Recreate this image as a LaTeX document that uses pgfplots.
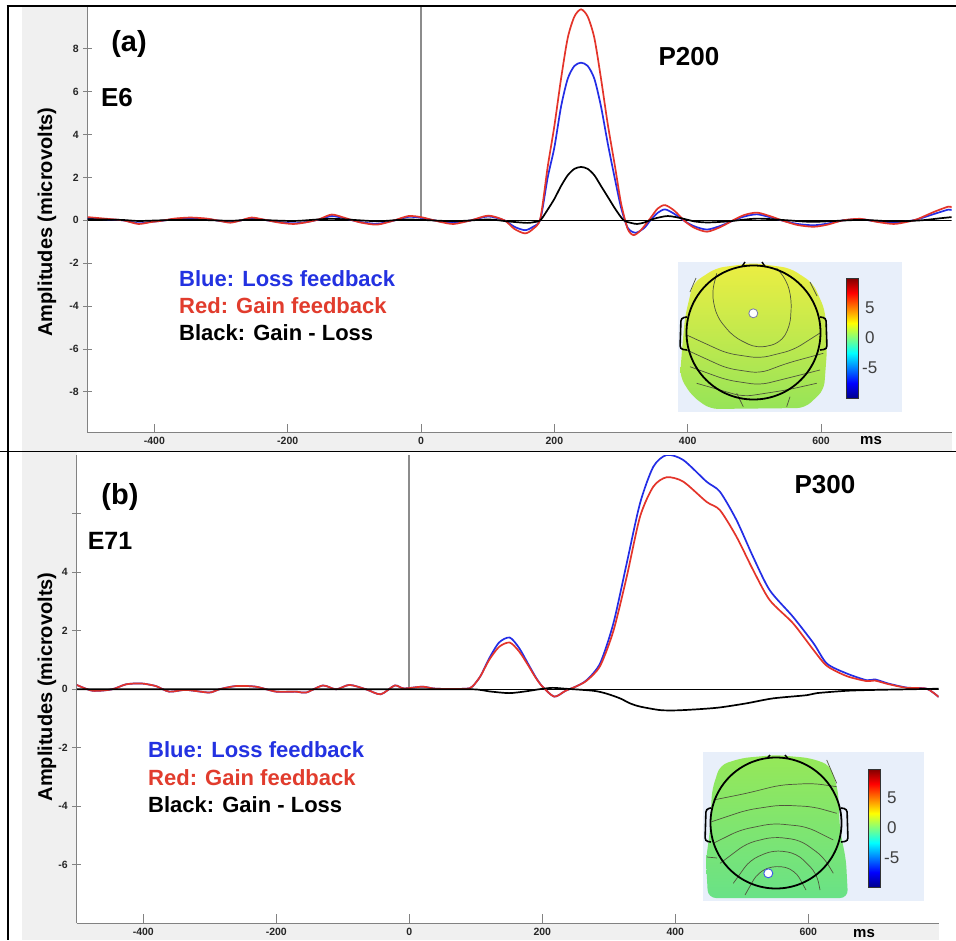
\documentclass[border=0pt]{standalone}
\usepackage{fontspec}
\setmainfont{Liberation Sans}
\usepackage{pgfplots}
\usepackage{pgfplotstable}
\pgfplotsset{compat=1.18}

\definecolor{lossblue}{RGB}{35,45,230}
\definecolor{gainred}{RGB}{228,52,42}
\definecolor{txtblue}{RGB}{35,50,225}
\definecolor{txtred}{RGB}{225,60,45}
\definecolor{bggray}{RGB}{240,240,240}
\definecolor{axgray}{RGB}{130,130,130}
\definecolor{stimgray}{RGB}{140,140,140}
\definecolor{topobg}{RGB}{232,239,250}
\definecolor{contour}{RGB}{80,85,60}
\definecolor{jet0}{RGB}{0,0,140}
\definecolor{jet1}{RGB}{0,0,255}
\definecolor{jet2}{RGB}{0,255,255}
\definecolor{jet3}{RGB}{255,255,0}
\definecolor{jet4}{RGB}{255,0,0}
\definecolor{jet5}{RGB}{128,0,0}
% tikz fits the middle 50bp of a shading to the path
\pgfdeclareverticalshading{jet}{100bp}{color(0bp)=(jet0); color(25bp)=(jet0); color(31.25bp)=(jet1); color(43.75bp)=(jet2); color(56.25bp)=(jet3); color(68.75bp)=(jet4); color(75bp)=(jet5); color(100bp)=(jet5)}

% ---- panel (a), electrode E6 ----
\pgfplotstableread{
t v
-500 0.15
-475 0.08
-447 0.0
-424 -0.17
-405 -0.08
-391 -0.03
-370 0.08
-346 0.13
-321 0.08
-303 -0.02
-286 -0.11
-270 0.0
-254 0.13
-235 0.03
-214 -0.1
-191 -0.17
-170 -0.08
-153 0.05
-134 0.27
-115 0.12
-91 -0.1
-66 -0.2
-42 -0.02
-19 0.2
0 0.15
13 0.05
30 -0.08
49 -0.17
75 0.0
101 0.22
125 0.0
140 -0.4
156 -0.61
168 -0.4
179 0.1
190 2.5
200 4.4
210 6.6
220 8.5
230 9.5
240 9.84
250 9.5
260 8.5
270 6.6
280 4.5
291 2.5
300 0.8
310 -0.4
319 -0.69
330 -0.45
344 0.1
355 0.55
366 0.71
380 0.45
396 -0.05
410 -0.35
429 -0.53
450 -0.3
469 0.02
485 0.25
504 0.36
525 0.18
543 -0.02
565 -0.22
589 -0.3
610 -0.2
633 0.0
659 0.07
685 -0.08
709 -0.17
728 -0.08
744 0.05
770 0.4
791 0.64
796 0.6
}\redA

\pgfplotstableread{
t v
-500 0.1
-475 0.05
-447 0.0
-424 -0.14
-405 -0.07
-391 -0.03
-370 0.06
-346 0.1
-321 0.06
-303 -0.02
-286 -0.09
-270 0.0
-254 0.1
-235 0.02
-214 -0.08
-191 -0.14
-170 -0.07
-153 0.04
-134 0.2
-115 0.09
-91 -0.08
-66 -0.16
-42 -0.02
-19 0.16
0 0.12
13 0.04
30 -0.06
49 -0.13
75 0.0
101 0.18
125 0.0
140 -0.3
156 -0.46
168 -0.3
179 0.05
190 2.0
200 3.4
210 5.3
220 6.6
230 7.2
240 7.35
250 7.2
260 6.6
270 5.3
280 3.6
291 1.9
300 0.6
310 -0.35
322 -0.58
335 -0.35
344 0.0
355 0.35
366 0.51
380 0.3
396 -0.05
410 -0.28
429 -0.43
450 -0.25
469 0.0
485 0.18
504 0.28
525 0.13
543 -0.02
565 -0.17
589 -0.23
610 -0.15
633 0.0
659 0.05
685 -0.06
709 -0.12
728 -0.05
744 0.04
770 0.3
791 0.5
796 0.47
}\blueA

\pgfplotstableread{
t v
-500 0.05
-450 0.02
-424 -0.03
-391 0.0
-346 0.03
-286 -0.02
-254 0.03
-191 -0.03
-134 0.07
-66 -0.04
-19 0.04
49 -0.04
101 0.04
130 -0.05
159 -0.12
170 -0.08
179 0.0
190 0.5
200 1.0
210 1.6
220 2.1
230 2.4
240 2.49
250 2.4
260 2.1
270 1.6
281 1.05
292 0.5
304 0.0
315 -0.12
324 -0.17
335 -0.1
350 0.08
370 0.2
390 0.1
410 -0.05
430 -0.1
460 -0.05
504 0.08
550 0.0
589 -0.07
659 0.02
709 -0.05
750 0.0
780 0.1
796 0.15
}\blackA

% ---- panel (b), electrode E71 ----
\pgfplotstableread{
t v
-500 0.15
-476 -0.05
-447 0.0
-426 0.17
-403 0.2
-381 0.11
-361 -0.08
-336 -0.02
-301 -0.11
-286 0.0
-261 0.11
-231 0.09
-200 -0.08
-170 -0.08
-155 -0.11
-130 0.13
-110 0.0
-90 0.15
-65 0.0
-43 -0.17
-22 0.13
-8 0.03
20 0.09
40 0.02
85 0.02
95 0.1
107 0.45
120 1.0
135 1.45
151 1.6
165 1.3
178 0.85
190 0.4
200 0.1
218 -0.25
235 -0.05
251 0.1
267 0.3
287 0.8
307 2.0
327 3.85
347 5.9
367 6.93
387 7.25
412 7.1
447 6.41
467 6.13
492 5.22
517 4.08
542 3.05
577 2.26
608 1.34
628 0.8
658 0.45
688 0.28
700 0.3
720 0.18
748 0.05
778 0.02
796 -0.26
}\redB

\pgfplotstableread{
t v
-500 0.15
-476 -0.05
-447 0.0
-426 0.17
-403 0.2
-381 0.11
-361 -0.08
-336 -0.02
-301 -0.11
-286 0.0
-261 0.11
-231 0.09
-200 -0.08
-170 -0.08
-155 -0.11
-130 0.13
-110 0.0
-90 0.15
-65 0.0
-43 -0.17
-22 0.13
-8 0.03
20 0.09
40 0.02
85 0.02
95 0.1
107 0.45
120 1.05
135 1.6
151 1.77
165 1.42
178 0.9
190 0.42
200 0.1
218 -0.25
235 -0.05
251 0.1
267 0.32
287 0.89
307 2.26
327 4.31
347 6.36
367 7.61
387 8.01
412 7.84
447 7.1
467 6.76
492 5.79
517 4.53
542 3.39
577 2.48
608 1.57
628 0.88
658 0.54
688 0.31
700 0.34
720 0.2
748 0.06
778 0.02
796 -0.26
}\blueB

\pgfplotstableread{
t v
-500 0.0
-300 0.0
0 0.0
95 0.0
120 -0.07
150 -0.13
175 -0.07
195 0.0
215 0.05
235 0.02
277 -0.05
297 -0.15
317 -0.31
332 -0.48
347 -0.59
377 -0.71
402 -0.72
435 -0.68
467 -0.62
507 -0.48
547 -0.31
598 -0.2
613 -0.13
658 -0.05
700 -0.02
750 0.0
796 0.02
}\blackB

\pgfplotsset{
  erp/.style={
    scale only axis,
    axis lines=left,
    axis line style={axgray, line width=0.8pt, -},
    xmin=-500, xmax=796,
    xtick={-400,-200,0,200,400,600},
    xticklabels={-400,-200,0,200,400,600},
    tick style={axgray, line width=0.8pt},
    xtick align=inside,
    ytick align=center,
    major tick length=9pt,
    ticklabel style={font=\fontsize{10.5}{12}\selectfont\bfseries, text=black!85},
    yticklabel style={xshift=-1pt},
    xticklabel style={yshift=-1pt},
    ylabel={Amplitudes (microvolts)},
    ylabel style={font=\fontsize{20}{22}\selectfont\bfseries, anchor=center},
  },
  curve/.style={line width=1.7pt, smooth, tension=0.45},
}

\newcommand{\bigb}[1]{\fontsize{#1}{#1}\selectfont\bfseries}

\begin{document}
\begin{tikzpicture}
\useasboundingbox (0pt,0pt) rectangle (956pt,-940pt);
\begin{scope}[x=1pt,y=1pt]
\fill[white] (0,0) rectangle (956,-940);
% grey surrounds of the two panels
\fill[bggray] (22,-6) rectangle (87.7,-451);
\fill[bggray] (22,-432.6) rectangle (952,-451);
\fill[bggray] (22,-452) rectangle (76.8,-940);
\fill[bggray] (22,-923.3) rectangle (938.6,-940);
\end{scope}

\coordinate (pa) at (87.7pt,-432.6pt);
\coordinate (pb) at (76.8pt,-923.3pt);

% ---- (a)
\begin{axis}[erp,
  at={(pa)}, anchor=south west,
  width=864pt, height=426.7pt,
  ymin=-9.9, ymax=10,
  ytick={-8,-6,-4,-2,0,2,4,6,8},
  yticklabels={-8,-6,-4,-2,0,2,4,6,8},
  ylabel style={at={(axis description cs:-0.0471,0.4936)}},
]
\addplot[stimgray, line width=1.6pt] coordinates {(0,0) (0,10)};
\addplot[black, line width=0.8pt] coordinates {(-500,0) (796,0)};
\addplot[curve, lossblue] table[x=t, y=v] {\blueA};
\addplot[curve, gainred] table[x=t, y=v] {\redA};
\addplot[curve, black] table[x=t, y=v] {\blackA};
\end{axis}

% ---- (b)
\begin{axis}[erp,
  at={(pb)}, anchor=south west,
  width=861.8pt, height=468pt,
  ymin=-8, ymax=8,
  ytick={-6,-4,-2,0,2,4,6},
  yticklabels={-6,-4,-2,0,2,4,{}},
  ylabel style={at={(axis description cs:-0.0346,0.505)}},
]
\addplot[stimgray, line width=1.6pt] coordinates {(0,0) (0,8)};
\addplot[black, line width=0.8pt] coordinates {(-500,0) (796,0)};
\addplot[curve, lossblue] table[x=t, y=v] {\blueB};
\addplot[curve, gainred] table[x=t, y=v] {\redB};
\addplot[curve, black] table[x=t, y=v] {\blackB};
\end{axis}

\begin{scope}[x=1pt,y=1pt]
% frame lines
\draw[black, line width=2pt] (7.5,-5.5) -- (7.5,-940);
\draw[black, line width=1.5pt] (6.5,-6) -- (956,-6);
\draw[black, line width=1.5pt] (0,-451.5) -- (956,-451.5);

% ---- annotations (a)
\node at (129,-44) {\bigb{29}(a)};
\node at (117,-98) {\bigb{26}E6};
\node at (689,-57) {\bigb{26}P200};
\node[anchor=west, inner sep=0, text=txtblue] at (179,-279) {\bigb{22}Blue: Loss feedback};
\node[anchor=west, inner sep=0, text=txtred] at (179,-306) {\bigb{22}Red: Gain feedback};
\node[anchor=west, inner sep=0, text=black] at (179,-333) {\bigb{22}Black: Gain - Loss};
\node at (871,-441) {\bigb{15}ms};

% ---- annotations (b)
\node at (120,-497) {\bigb{29}(b)};
\node at (110,-541) {\bigb{25}E71};
\node at (825,-485) {\bigb{26}P300};
\node[anchor=west, inner sep=0, text=txtblue] at (148,-750) {\bigb{22}Blue: Loss feedback};
\node[anchor=west, inner sep=0, text=txtred] at (148,-778) {\bigb{22}Red: Gain feedback};
\node[anchor=west, inner sep=0, text=black] at (148,-805) {\bigb{22}Black: Gain - Loss};
\node at (864,-934) {\bigb{15}ms};

% ---- scalp map (a)
\fill[topobg] (678,-262) rectangle (902,-412);
\shade[rounded corners=8pt, top color={rgb,255:red,236;green,238;blue,66}, middle color={rgb,255:red,230;green,237;blue,62}, bottom color={rgb,255:red,150;green,228;blue,88}]
  (753,-263) -- (790,-268) -- (813,-283) -- (825,-310) -- (827,-350) -- (824,-390) -- (805,-408) -- (710,-409) -- (692,-396) -- (680,-377) -- (682,-350) -- (685,-317) -- (693,-283) -- (716,-268) -- cycle;
\begin{scope}[contour, line width=0.7pt, rounded corners=9pt]
\draw (716.7,-273.3) -- (711.7,-293.3) -- (716.7,-316.7) -- (733.3,-336.7) -- (756.7,-348.3) -- (780,-343.3) -- (790,-326.7) -- (791.7,-300) -- (786.7,-280) -- (776.7,-268.3);
\draw (686.7,-335) -- (726.7,-353.3) -- (760,-358.3) -- (793.3,-350) -- (820,-333);
\draw (686.7,-350) -- (726.7,-368.3) -- (760,-373.3) -- (786.7,-363.3) -- (823.3,-353.3);
\draw (690,-366.7) -- (726.7,-380) -- (760,-385) -- (793.3,-376.7) -- (820,-370);
\draw (696.7,-383.3) -- (743.3,-396.7) -- (786.7,-390) -- (816.7,-383.3);
\draw (736.7,-393.3) -- (743.3,-406.7);
\draw (790,-396.7) -- (786.7,-406.7);
\draw (696,-278) -- (690,-292);
\draw (810,-282) -- (817,-296);
\end{scope}
\draw[black, line width=1.8pt] (753.5,-332.5) circle (67);
\draw[black, line width=1.6pt, rounded corners=3pt] (687,-317) -- (681,-318) -- (680,-349) -- (687,-350);
\draw[black, line width=1.6pt, rounded corners=3pt] (820,-317) -- (826,-318) -- (827,-349) -- (820,-350);
\draw[black, line width=1.5pt] (742,-266.5) -- (745,-262);
\draw[black, line width=1.5pt] (762,-262) -- (765,-266.5);
\filldraw[fill=white, draw={rgb,255:red,120;green,120;blue,170}, line width=0.8pt] (753.3,-313.3) circle (4.5);
\shade[shading=jet] (846,-278) rectangle (858,-398);
\draw[black!80, line width=0.5pt] (846,-278) rectangle (858,-398);
\node[anchor=west, inner sep=0, text=black!75] at (865,-308) {\fontsize{17}{17}\selectfont 5};
\node[anchor=west, inner sep=0, text=black!75] at (865,-338) {\fontsize{17}{17}\selectfont 0};
\node[anchor=west, inner sep=0, text=black!75] at (862,-368) {\fontsize{17}{17}\selectfont -5};

% ---- scalp map (b)
\fill[topobg] (703,-752) rectangle (924,-901);
\shade[rounded corners=8pt, top color={rgb,255:red,150;green,232;blue,88}, middle color={rgb,255:red,128;green,230;blue,105}, bottom color={rgb,255:red,105;green,226;blue,135}]
  (776,-755) -- (810,-758) -- (830,-765) -- (838,-790) -- (840,-830) -- (846,-860) -- (848,-898) -- (708,-898) -- (706,-860) -- (710,-830) -- (712,-790) -- (720,-765) -- (742,-758) -- cycle;
\begin{scope}[contour, line width=0.7pt, rounded corners=9pt]
\draw (713.3,-800) -- (746.7,-793.3) -- (780,-785) -- (813.3,-783.3) -- (836.7,-786.7);
\draw (711.7,-821.7) -- (746.7,-810) -- (780,-805) -- (813.3,-806.7) -- (836.7,-813.3);
\draw (713.3,-843.3) -- (740,-830) -- (773.3,-823.3) -- (806.7,-826.7) -- (833.3,-840);
\draw (720,-863.3) -- (746.7,-843.3) -- (773.3,-836.7) -- (800,-840) -- (823.3,-856.7) -- (833.3,-873.3);
\draw (733.3,-883.3) -- (750,-860) -- (773.3,-850) -- (796.7,-853.3) -- (816.7,-873.3) -- (820,-890);
\draw (745,-895) -- (758,-872) -- (776,-865) -- (795,-870) -- (806,-890);
\draw (826.7,-760) -- (836.7,-783.3);
\draw (707,-857) -- (717,-858);
\end{scope}
\draw[black, line width=1.8pt] (776,-823) circle (65.5);
\draw[black, line width=1.6pt, rounded corners=3pt] (711,-808) -- (706,-809) -- (705,-841) -- (711,-842);
\draw[black, line width=1.6pt, rounded corners=3pt] (841,-808) -- (847,-809) -- (848,-841) -- (841,-842);
\draw[black, line width=1.5pt] (767,-758.5) -- (770,-755);
\draw[black, line width=1.5pt] (785,-755) -- (788,-758.5);
\filldraw[fill=white, draw={rgb,255:red,60;green,90;blue,230}, line width=0.9pt] (768.3,-873.3) circle (4.5);
\shade[shading=jet] (868,-769) rectangle (880,-887);
\draw[black!80, line width=0.5pt] (868,-769) rectangle (880,-887);
\node[anchor=west, inner sep=0, text=black!75] at (887,-798) {\fontsize{17}{17}\selectfont 5};
\node[anchor=west, inner sep=0, text=black!75] at (887,-828) {\fontsize{17}{17}\selectfont 0};
\node[anchor=west, inner sep=0, text=black!75] at (884,-858) {\fontsize{17}{17}\selectfont -5};
\end{scope}
\end{tikzpicture}
\end{document}
